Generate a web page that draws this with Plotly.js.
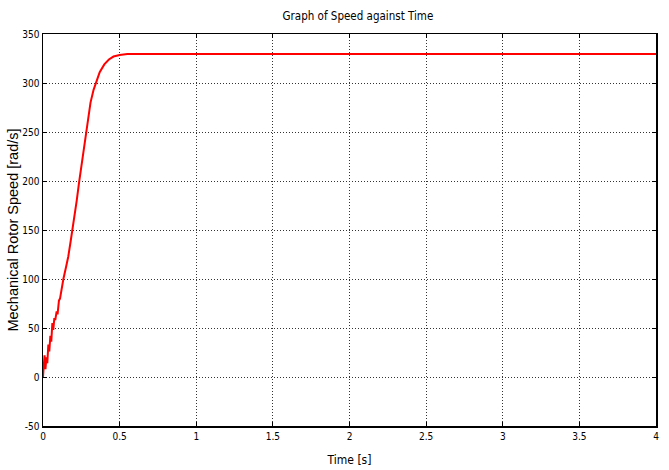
<!DOCTYPE html>
<html>
<head>
<meta charset="utf-8">
<script src="https://cdn.plot.ly/plotly-3.0.1.min.js"></script>
<style>html,body{margin:0;padding:0;background:#fff;}#chart{width:669px;height:470px;}</style>
</head>
<body>
<div id="chart"></div>
<script>
const timeS = [0, 0.005, 0.010, 0.016, 0.022, 0.028, 0.035, 0.041, 0.048, 0.054, 0.061, 0.067, 0.074, 0.080, 0.089, 0.095, 0.104, 0.111, 0.120, 0.126, 0.133, 0.150, 0.165, 0.18, 0.20, 0.22, 0.235, 0.25, 0.27, 0.29, 0.31, 0.33, 0.35, 0.37, 0.40, 0.43, 0.46, 0.50, 0.55, 0.60, 1.0, 2.0, 3.0, 4.0];
const speedRad = [0, 12, 22, 8, 20, 14, 33, 26, 42, 36, 55, 48, 60, 58, 67, 64, 78, 80, 90, 93, 100, 112, 123, 138, 158, 180, 198, 215, 240, 262, 280, 293, 302, 311, 319, 324, 327, 328.5, 329.5, 329.6, 329.6, 329.6, 329.6, 329.6];
const xTicks = [0, 0.5, 1, 1.5, 2, 2.5, 3, 3.5, 4];
const yTicks = [-50, 0, 50, 100, 150, 200, 250, 300, 350];

const narrow = '"DejaVu Sans Condensed", "Liberation Sans Narrow", sans-serif';
const axisCommon = {
  showline: true, linecolor: '#000', linewidth: 1.5, mirror: 'ticks',
  ticks: 'inside', ticklen: 4, tickcolor: '#000', tickwidth: 1,
  showgrid: true, gridcolor: '#333', griddash: '1px,2px', gridwidth: 1,
  zeroline: false, tickfont: {family: narrow, size: 10, color: '#000'}
};
Plotly.newPlot('chart', [{
  x: timeS, y: speedRad, type: 'scatter', mode: 'lines',
  line: {color: '#ff0000', width: 2}
}], {
  width: 669, height: 470,
  margin: {l: 43, r: 13, t: 34, b: 44},
  paper_bgcolor: '#fff', plot_bgcolor: '#fff',
  showlegend: false,
  title: {text: 'Graph of Speed against Time', font: {family: narrow, size: 11.5, color: '#000'}, x: 0.535, xanchor: 'center', y: 0.965, yanchor: 'middle'},
  xaxis: Object.assign({}, axisCommon, {range: [0, 4], tickvals: xTicks, ticktext: xTicks.map(String),
    title: {text: 'Time [s]', font: {family: narrow, size: 12, color: '#000'}, standoff: 15}}),
  yaxis: Object.assign({}, axisCommon, {range: [-50, 350], tickvals: yTicks, ticktext: yTicks.map(String),
    title: {text: 'Mechanical Rotor Speed [rad/s]', font: {family: '"Liberation Sans", Arial, sans-serif', size: 14.5, color: '#000'}, standoff: 0}})
}, {staticPlot: true});
</script>
</body>
</html>
